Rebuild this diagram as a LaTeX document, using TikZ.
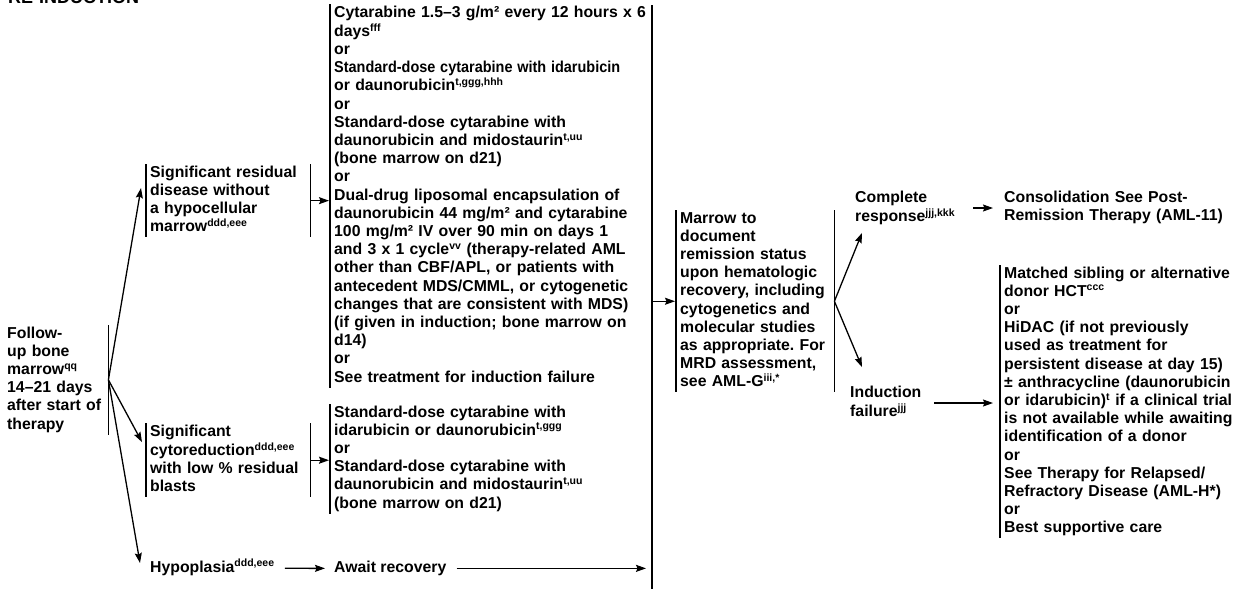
\documentclass[tikz,border=0pt]{standalone}
\usepackage{fontspec}
\setmainfont{Liberation Sans}
\usetikzlibrary{arrows.meta,positioning}
\newcommand{\supx}[1]{\textsuperscript{\fontsize{10.5}{11}\selectfont #1}}

\begin{document}
\frenchspacing
\begin{tikzpicture}[x=1pt, y=-1pt,
  txt/.style={align=left, anchor=base west, inner xsep=4pt, inner ysep=0pt,
    font=\fontsize{15.8}{18.2}\selectfont\bfseries,
    execute at begin node=\strut, execute at end node=\strut},
  bar/.style={line width=1.3pt},
  arr/.style={line width=1.3pt, -{Stealth[length=10pt,width=7pt,inset=1.5pt]}}]
\useasboundingbox[fill=white] (0,0) rectangle (1246,589);
% title
\node[txt, inner xsep=0pt, font=\fontsize{18}{20}\selectfont\bfseries] (title) at (8,4) {RE-INDUCTION};
% 1st column
\node[txt, text width=97pt] (follow) at (3,338) {Follow-\\up bone\\marrow\supx{qq}\\14--21 days\\after start of\\therapy};
\draw[bar] (follow.north east) -- (follow.south east);
% 2nd column
\node[txt, text width=156pt] (resid) at (146,177) {Significant residual\\disease without\\a hypocellular\\marrow\supx{ddd,eee}};
\draw[bar] (resid.north west) -- (resid.south west);
\draw[bar] (resid.north east) -- (resid.south east);
\node[txt, text width=156pt] (cyto) at (146,436) {Significant\\cytoreduction\supx{ddd,eee}\\with low \% residual\\blasts};
\draw[bar] (cyto.north west) -- (cyto.south west);
\draw[bar] (cyto.north east) -- (cyto.south east);
\node[txt] (hypo) at (146,572) {Hypoplasia\supx{ddd,eee}};
\draw[arr] (follow.east) -- ([shift={(-5,24)}]resid.north west);
\draw[arr] (follow.east) -- ([shift={(-4,19)}]cyto.north west);
\draw[arr] (follow.east) -- ([shift={(-6,4)}]hypo.north west);
% 3rd column
\node[txt, text width=314pt] (main) at (330,17) {Cytarabine 1.5--3 g/m² every 12 hours x 6\\days\supx{fff}\\or\\\scalebox{0.915}[1]{Standard-dose cytarabine with idarubicin}\\or daunorubicin\supx{t,ggg,hhh}\\or\\Standard-dose cytarabine with\\daunorubicin and midostaurin\supx{t,uu}\\(bone marrow on d21)\\or\\Dual-drug liposomal encapsulation of\\daunorubicin 44 mg/m² and cytarabine\\100 mg/m² IV over 90 min on days 1\\and 3 x 1 cycle\supx{vv} (therapy-related AML\\other than CBF/APL, or patients with\\antecedent MDS/CMML, or cytogenetic\\changes that are consistent with MDS)\\(if given in induction; bone marrow on\\d14)\\or\\See treatment for induction failure};
\draw[bar] (main.north west) -- (main.south west);
\node[txt, text width=314pt] (main2) at (330,417) {Standard-dose cytarabine with\\idarubicin or daunorubicin\supx{t,ggg}\\or\\Standard-dose cytarabine with\\daunorubicin and midostaurin\supx{t,uu}\\(bone marrow on d21)};
\draw[bar] (main2.north west) -- (main2.south west);
\node[txt] (await) at (330,572) {Await recovery};
\draw[arr, shorten >=1pt] (resid.east) -- (main.west |- resid.east);
\draw[arr, shorten >=1pt] (cyto.east) -- (main2.west |- cyto.east);
\draw[arr, shorten <=6pt, shorten >=5pt] (hypo.east) -- (await.west);
% collecting bar
\coordinate (colTop) at (652,5);
\coordinate (colBot) at (652,589);
\draw[bar] (colTop) -- (colBot);
\draw[arr, shorten <=6pt, shorten >=6pt] (await.east) -- (colBot |- await.east);
% 4th column
\node[txt, text width=150pt] (marrow) at (676,223) {Marrow to\\document\\remission status\\upon hematologic\\recovery, including\\cytogenetics and\\molecular studies\\as appropriate. For\\MRD assessment,\\see AML-G\supx{iii,*}};
\draw[bar] (marrow.north west) -- (marrow.south west);
\draw[bar] (marrow.north east) -- (marrow.south east);
\draw[arr, shorten >=1pt] (colTop |- marrow.west) -- (marrow.west);
% 5th column
\node[txt, text width=110pt] (compl) at (851,202) {Complete\\response\supx{jjj,kkk}};
\node[txt, text width=80pt] (indf) at (846,397) {Induction\\failure\supx{jjj}};
\draw[arr] (marrow.east) -- ([shift={(11,6)}]compl.south west);
\draw[arr] (marrow.east) -- ([shift={(16,-17)}]indf.north west);
% 6th column
\node[txt, text width=238pt] (consol) at (1000,202) {Consolidation See Post-\\Remission Therapy (AML-11)};
\node[txt, text width=238pt] (rbox) at (1000,278) {Matched sibling or alternative\\donor HCT\supx{ccc}\\or\\HiDAC (if not previously\\used as treatment for\\persistent disease at day 15)\\± anthracycline (daunorubicin\\or idarubicin)\supx{t} if a clinical trial\\is not available while awaiting\\identification of a donor\\or\\See Therapy for Relapsed/\\Refractory Disease (AML-H*)\\or\\Best supportive care};
\draw[bar] (rbox.north west) -- (rbox.south west);
\draw[arr, shorten <=4pt, shorten >=7pt] (compl.east) -- (consol.west |- compl.east);
\draw[arr, shorten >=7pt] (indf.east) -- (rbox.west |- indf.east);
\end{tikzpicture}
\end{document}
